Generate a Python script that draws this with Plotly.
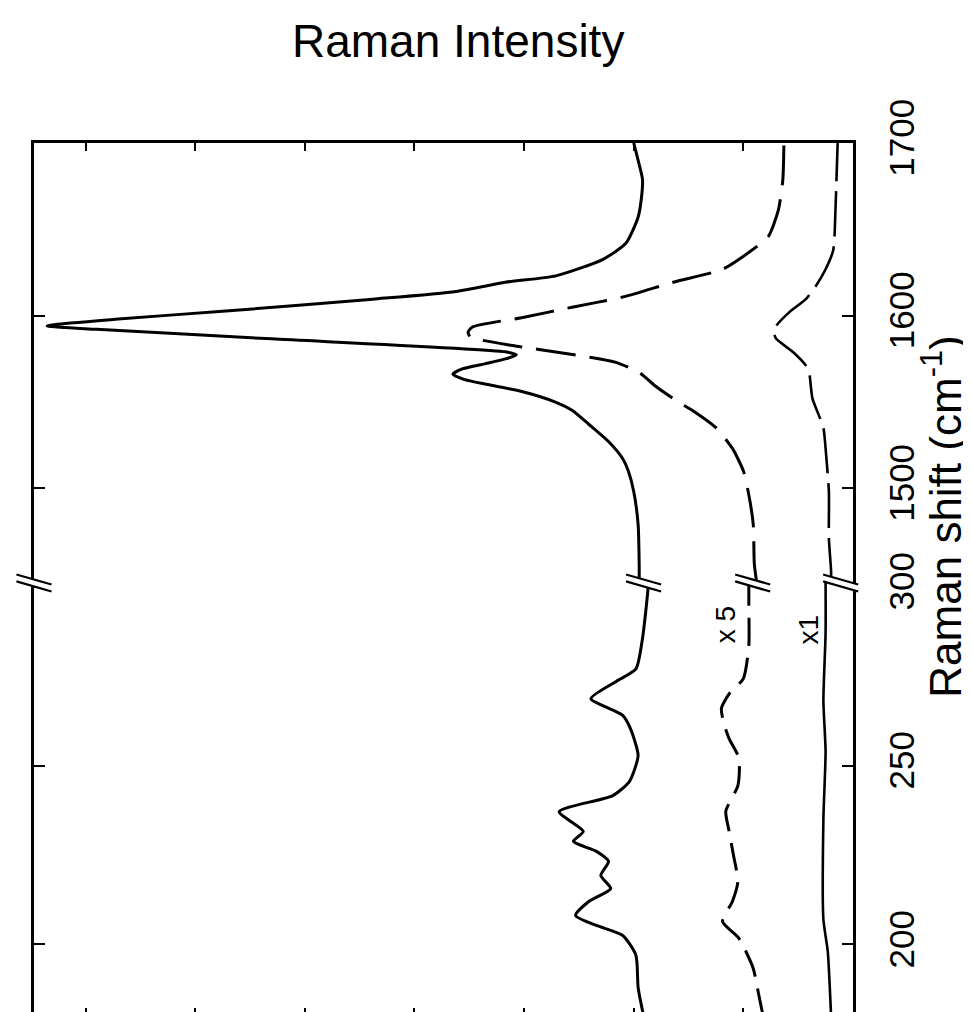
import plotly.graph_objects as go

FONT = "Liberation Sans, Arial, Helvetica, sans-serif"

# ---------------- data (Raman shift in cm-1, intensity in arbitrary units) ----------------
# upper panel (1445-1700 cm-1)
hi_shift_solid = [1445, 1455, 1479, 1498, 1510, 1517, 1527, 1537, 1545, 1550, 1556, 1560,
                  1563, 1566, 1569, 1572, 1575, 1577.2, 1579, 1586.5, 1592, 1594, 1598,
                  1602.6, 1609.5, 1614, 1619.3, 1623, 1632.6, 1642, 1657, 1668, 1679, 1690, 1700]
hi_int_solid = [1.95, 1.95, 1.96, 2.00, 2.05, 2.10, 2.23, 2.41, 2.56, 2.72, 3.02, 3.33,
                3.55, 3.65, 3.57, 3.36, 3.16, 3.07, 3.17, 5.30, 6.90, 7.35, 6.70,
                5.72, 4.38, 3.62, 3.17, 2.71, 2.28, 2.07, 1.96, 1.93, 1.92, 1.96, 2.00]

hi_shift_x5 = [1446, 1456, 1479, 1496, 1510, 1523, 1535, 1544, 1551, 1559, 1567, 1573,
               1578, 1582.4, 1587.6, 1590.5, 1593.4, 1599, 1605, 1610.7, 1619.3, 1626.8,
               1636.6, 1646, 1661.4, 1678.7, 1700]
hi_int_x5 = [0.88, 0.90, 0.91, 0.95, 1.00, 1.10, 1.25, 1.44, 1.62, 1.80, 1.95, 2.17,
             2.62, 3.08, 3.49, 3.51, 3.47, 3.00, 2.55, 2.10, 1.64, 1.19,
             0.95, 0.77, 0.68, 0.64, 0.63]

hi_shift_x1 = [1445, 1452, 1471, 1498, 1523, 1535, 1552, 1567, 1571, 1579, 1586.5, 1590,
               1594, 1602, 1609.5, 1618, 1626.8, 1638, 1661, 1680, 1700]
hi_int_x1 = [0.20, 0.20, 0.22, 0.22, 0.25, 0.27, 0.37, 0.40, 0.43, 0.55, 0.70, 0.72,
             0.70, 0.58, 0.43, 0.33, 0.25, 0.18, 0.16, 0.15, 0.14]

# lower panel (180-300 cm-1)
lo_shift_solid = [180, 188, 197, 202.5, 205.3, 208.1, 212, 215.6, 219.3, 223.2, 226, 228.8,
                  231.6, 237.1, 241.6, 245.5, 252.8, 260.3, 264, 268.7, 273.5, 277,
                  285.5, 299.4, 301]
lo_int_solid = [1.91, 1.96, 1.98, 2.10, 2.34, 2.53, 2.41, 2.21, 2.30, 2.23, 2.34, 2.55,
                2.46, 2.68, 2.19, 2.04, 1.96, 2.03, 2.10, 2.39, 2.16, 1.98,
                1.92, 1.87, 1.87]

lo_shift_x5 = [180, 186, 193.3, 201.7, 206.4, 212, 217.6, 224.9, 231.6, 237.2, 244.4, 252,
               257.5, 262, 266, 270, 274.3, 283.5, 294.7, 301]
lo_int_x5 = [0.82, 0.86, 0.91, 1.04, 1.19, 1.10, 1.05, 1.09, 1.13, 1.16, 1.05, 1.04,
             1.13, 1.18, 1.20, 1.13, 1.00, 0.95, 0.95, 0.95]

lo_shift_x1 = [180, 198, 207, 235, 254, 268, 287, 301]
lo_int_x1 = [0.20, 0.23, 0.27, 0.27, 0.25, 0.27, 0.25, 0.25]

hi_ticks = [1500, 1600, 1700]
lo_ticks = [200, 250, 300]
int_ticks = [1, 2, 3, 4, 5, 6, 7]
int_range = [7.47, 0]
lo_range = [180, 301]
hi_range = [1445, 1700]
split = 0.496

fig = go.Figure()

def add(xv, yv, ax, dash, width):
    fig.add_trace(go.Scatter(
        x=xv, y=yv, mode="lines", xaxis=ax[0], yaxis=ax[1],
        line=dict(color="black", width=width, dash=dash, shape="spline", smoothing=0.6),
        hoverinfo="skip"))

add(hi_int_solid, hi_shift_solid, ("x2", "y2"), "solid", 3)
add(hi_int_x5, hi_shift_x5, ("x2", "y2"), "40px,14px", 3)
add(hi_int_x1, hi_shift_x1, ("x2", "y2"), "45px,10px", 2.6)
add(lo_int_solid, lo_shift_solid, ("x", "y"), "solid", 3)
add(lo_int_x5, lo_shift_x5, ("x", "y"), "28px,12px", 3)
add(lo_int_x1, lo_shift_x1, ("x", "y"), "solid", 2.6)

xcommon = dict(range=int_range, tickvals=int_ticks, showticklabels=False, ticks="inside",
               ticklen=8, tickwidth=2, tickcolor="black", showline=True, linewidth=2.5,
               linecolor="black", showgrid=False, zeroline=False)
ycommon = dict(side="right", ticks="inside", ticklen=11, tickwidth=2, tickcolor="black",
               showline=True, linewidth=2.5, linecolor="black", mirror="ticks",
               showgrid=False, zeroline=False, tickangle=-90, ticklabelstandoff=16,
               tickfont=dict(family=FONT, size=35, color="black"))

fig.update_layout(
    width=971, height=1012,
    margin=dict(l=26, r=126, t=135, b=4, pad=0),
    paper_bgcolor="white", plot_bgcolor="white", showlegend=False,
    xaxis=dict(anchor="y", side="bottom", domain=[0, 1], **xcommon),
    xaxis2=dict(anchor="y2", side="top", domain=[0, 1], matches="x", **xcommon),
    yaxis=dict(anchor="x", domain=[0, split], range=lo_range, tickvals=lo_ticks, **ycommon),
    yaxis2=dict(anchor="x2", domain=[split, 1], range=hi_range, tickvals=hi_ticks, **ycommon),
)

# axis break marks "//" at the left border, on each curve, and at the right border
def to_paper(v):
    return (int_range[0] - v) / (int_range[0] - int_range[1])

dxp = 0.16 / int_range[0]
dy, gap = 0.0058, 0.0040
centers = [
    to_paper(int_range[0]),
    to_paper((lo_int_solid[-1] + hi_int_solid[0]) / 2),
    to_paper((lo_int_x5[-1] + hi_int_x5[0]) / 2),
    to_paper((lo_int_x1[-1] + hi_int_x1[0]) / 4),
]
for c in centers:
    fig.add_shape(type="line", xref="paper", yref="paper",
                  x0=c - dxp * 0.9, x1=c + dxp * 0.9, y0=split + dy, y1=split - dy,
                  line=dict(color="white", width=7))
    for off in (gap, -gap):
        fig.add_shape(type="line", xref="paper", yref="paper",
                      x0=c - dxp, x1=c + dxp, y0=split + dy + off, y1=split - dy + off,
                      line=dict(color="black", width=2.2))

# labels
fig.add_annotation(text="Raman Intensity", xref="paper", yref="paper", x=0.518, y=1.1174,
                   showarrow=False, font=dict(family=FONT, size=46, color="black"),
                   xanchor="center", yanchor="middle")
fig.add_annotation(text="Raman shift (cm<sup>-1</sup>)",
                   xref="paper", yref="paper",
                   x=1.1087, y=0.572, textangle=-90, showarrow=False,
                   font=dict(family=FONT, size=44, color="black"),
                   xanchor="center", yanchor="middle")
fig.add_annotation(text="x 5", xref="x", yref="y", x=1.16, y=289.4, textangle=-90,
                   showarrow=False, font=dict(family=FONT, size=28, color="black"))
fig.add_annotation(text="x1", xref="x", yref="y", x=0.41, y=288, textangle=-90,
                   showarrow=False, font=dict(family=FONT, size=28, color="black"))

fig.write_html("out.html")
